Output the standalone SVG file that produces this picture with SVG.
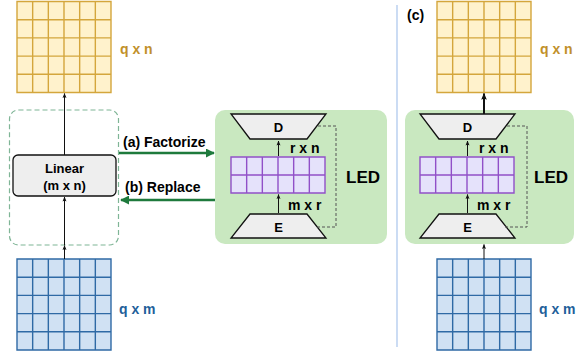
<svg xmlns="http://www.w3.org/2000/svg" width="576" height="353" viewBox="0 0 576 353">
<style>
text{font-family:"Liberation Sans",Arial,sans-serif;font-weight:bold}
.gy{fill:#fff2cc;stroke:#d4a63c;stroke-width:1.4}
.gb{fill:#d0e1f3;stroke:#2f6aa5;stroke-width:1.4}
.gp{fill:#e5e2fb;stroke:#9150c8;stroke-width:1.4}
.trap{fill:#eeeeee;stroke:#111;stroke-width:1.3}
.led{fill:#c9e8c0}
.ln{stroke:#111;stroke-width:1;fill:none}
.dot{stroke:#555;stroke-width:1;stroke-dasharray:3 2;fill:none}
.grn{stroke:#1e7a3c;stroke-width:2.5;fill:none}
.lbl{font-size:14px}
.yt{fill:#c1902a;font-size:14px}
.bt{fill:#1f5f9a;font-size:14px}
</style>
<defs>
<marker id="ah" viewBox="0 0 10 10" refX="9" refY="5" markerWidth="5" markerHeight="5" orient="auto"><path d="M0,1 L10,5 L0,9 L2,5 z" fill="#111"/></marker>
<marker id="ah2" viewBox="0 0 10 10" refX="9" refY="5" markerWidth="3.5" markerHeight="3.5" orient="auto"><path d="M0,1 L10,5 L0,9 L2,5 z" fill="#111"/></marker>
<marker id="ahg" viewBox="0 0 10 10" refX="9" refY="5" markerWidth="3.6" markerHeight="3.6" orient="auto"><path d="M0,0 L10,5 L0,10 z" fill="#1e7a3c"/></marker>
<path id="g65" d="M0,0h94v91h-94z M15.67,0v91 M31.33,0v91 M47,0v91 M62.67,0v91 M78.33,0v91 M0,18.2h94 M0,36.4h94 M0,54.6h94 M0,72.8h94"/>
<path id="g62" d="M0,0h94v36h-94z M15.67,0v36 M31.33,0v36 M47,0v36 M62.67,0v36 M78.33,0v36 M0,18h94"/>
</defs>

<g id="out-left">
<use href="#g65" x="17" y="1.5" class="gy"/>
<text x="120" y="54" class="yt">q x n</text>
</g>
<g id="in-left">
<use href="#g65" x="17" y="259" class="gb"/>
<text x="119" y="314" class="bt">q x m</text>
</g>
<g id="dashed-box">
<rect x="9.5" y="110" width="109" height="135" rx="9" fill="none" stroke="#7fb596" stroke-width="1.2" stroke-dasharray="5 3"/>
</g>
<g id="linear">
<rect x="13" y="155" width="103" height="41" rx="5" fill="#eeeeee" stroke="#111" stroke-width="1.3"/>
<text x="64.5" y="173" text-anchor="middle" font-size="13">Linear</text>
<text x="64.5" y="189.5" text-anchor="middle" font-size="13">(m x n)</text>
</g>

<g id="led-left">
<rect x="215" y="110" width="172" height="134" rx="10" class="led"/>
<path d="M231,114 L326,114 L307,139 L250,139 Z" class="trap"/>
<text x="278.5" y="132" text-anchor="middle" font-size="13">D</text>
<path d="M250,214 L307,214 L326,238 L231,238 Z" class="trap"/>
<text x="278.5" y="232" text-anchor="middle" font-size="13">E</text>
<use href="#g62" x="231" y="157" class="gp"/>
<text x="290" y="153" class="lbl">r x n</text>
<text x="288" y="210" class="lbl">m x r</text>
<text x="346" y="183" font-size="17">LED</text>
</g>

<line x1="397" y1="5" x2="397" y2="347" stroke="#a9c5ec" stroke-width="1.2"/>

<g id="label-c"><text x="407" y="20" font-size="14">(c)</text></g>
<g id="out-right">
<use href="#g65" x="437" y="1.5" class="gy"/>
<text x="540" y="54" class="yt">q x n</text>
</g>
<g id="in-right">
<use href="#g65" x="437" y="259" class="gb"/>
<text x="539" y="314" class="bt">q x m</text>
</g>
<g id="led-right">
<rect x="405" y="110" width="169" height="134" rx="10" class="led"/>
<path d="M420,114 L515,114 L496,139 L439,139 Z" class="trap"/>
<text x="467.5" y="132" text-anchor="middle" font-size="13">D</text>
<path d="M439,214 L496,214 L515,238 L420,238 Z" class="trap"/>
<text x="467.5" y="232" text-anchor="middle" font-size="13">E</text>
<use href="#g62" x="420" y="157" class="gp"/>
<text x="479" y="153" class="lbl">r x n</text>
<text x="477" y="210" class="lbl">m x r</text>
<text x="534" y="183" font-size="17">LED</text>
</g>

<g id="connectors">
<line x1="64.5" y1="155" x2="64.5" y2="93.5" class="ln" marker-end="url(#ah)"/>
<line x1="64.5" y1="245" x2="64.5" y2="197" class="ln" marker-end="url(#ah)"/>
<line x1="64.5" y1="259" x2="64.5" y2="245.5" class="ln" marker-end="url(#ah)"/>
<line x1="119" y1="153" x2="214" y2="153" class="grn" marker-end="url(#ahg)"/>
<text x="123" y="147" class="lbl">(a) Factorize</text>
<line x1="215" y1="200" x2="121" y2="200" class="grn" marker-end="url(#ahg)"/>
<text x="125" y="192" class="lbl">(b) Replace</text>
<line x1="278.5" y1="156" x2="278.5" y2="141" class="ln" marker-end="url(#ah)"/>
<line x1="278.5" y1="213" x2="278.5" y2="194.5" class="ln" marker-end="url(#ah)"/>
<path d="M318,126 H336 V227 H316" class="dot"/>
<line x1="467.5" y1="156" x2="467.5" y2="141" class="ln" marker-end="url(#ah)"/>
<line x1="467.5" y1="213" x2="467.5" y2="194.5" class="ln" marker-end="url(#ah)"/>
<path d="M507,126 H527 V227 H505" class="dot"/>
<line x1="484" y1="114" x2="484" y2="93.5" stroke="#111" stroke-width="2" marker-end="url(#ah2)"/>
<line x1="484" y1="259" x2="484" y2="244.5" class="ln" marker-end="url(#ah)"/>
</g>
</svg>
